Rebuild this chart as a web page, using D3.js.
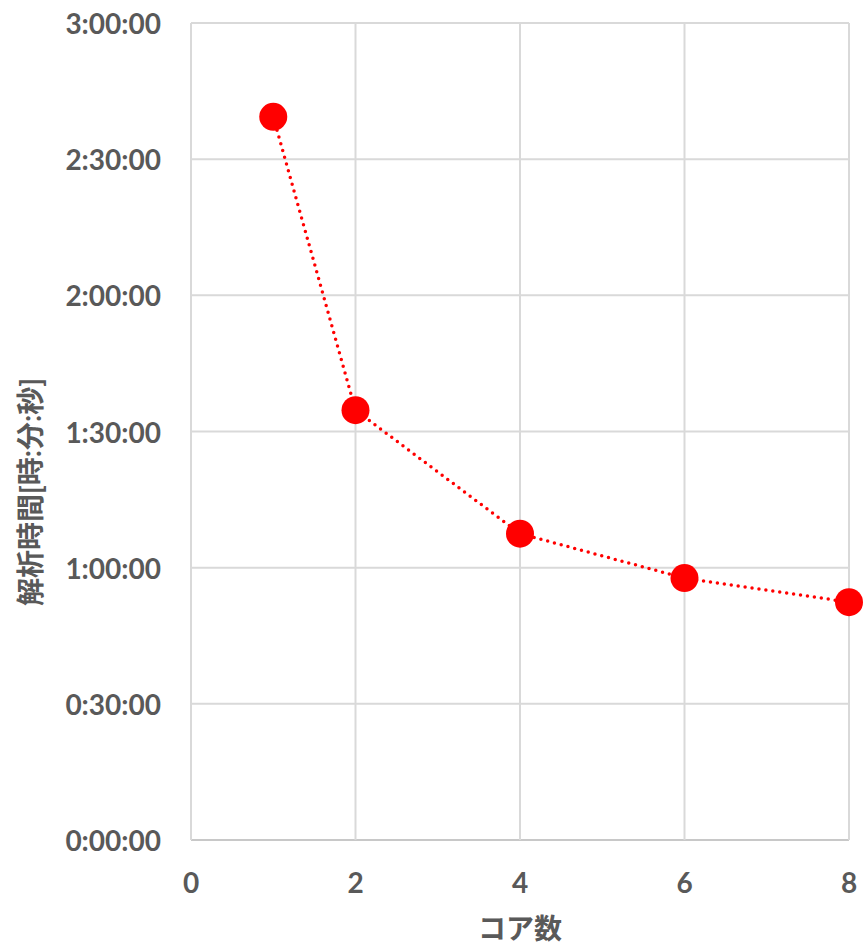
<!DOCTYPE html>
<html>
<head>
<meta charset="utf-8">
<script src="https://cdn.jsdelivr.net/npm/d3@7"></script>
<style>
  html, body { margin: 0; padding: 0; background: #fff; }
  svg text { font-family: Lato, "Noto Sans CJK JP", sans-serif; font-weight: bold; fill: #595959; }
</style>
</head>
<body>
<script>
// Analysis time versus number of cores
const cores = [1, 2, 4, 6, 8];
const times = ["2:39:20", "1:34:42", "1:07:30", "0:57:42", "0:52:24"];
const xTicks = [0, 2, 4, 6, 8];
const yTickLabels = ["0:00:00", "0:30:00", "1:00:00", "1:30:00", "2:00:00", "2:30:00", "3:00:00"];
const xTitle = "コア数";
const yTitle = "解析時間[時:分:秒]";

const toSec = s => s.split(":").reduce((a, v) => a * 60 + (+v), 0);

const W = 864, H = 945;
const m = { left: 191, right: 15, top: 23, bottom: 105 };

const svg = d3.select("body").append("svg").attr("width", W).attr("height", H);

const x = d3.scaleLinear().domain([0, 8]).range([m.left, W - m.right]);
const y = d3.scaleLinear().domain([0, toSec("3:00:00")]).range([H - m.bottom, m.top]);

const ySec = yTickLabels.map(toSec);

// Grid
const g = svg.append("g");
g.selectAll("line.h").data(ySec).join("line")
  .attr("x1", x(0)).attr("x2", x(8))
  .attr("y1", d => y(d)).attr("y2", d => y(d))
  .attr("stroke", d => d === 0 ? "#c8c8c8" : "#d9d9d9").attr("stroke-width", 2);
g.selectAll("line.v").data(xTicks).join("line")
  .attr("x1", d => x(d)).attr("x2", d => x(d))
  .attr("y1", y(ySec[ySec.length - 1])).attr("y2", y(0))
  .attr("stroke", "#d9d9d9").attr("stroke-width", 2);

// Y tick labels
svg.append("g").selectAll("text").data(yTickLabels).join("text")
  .attr("x", x(0) - 30).attr("y", d => y(toSec(d)))
  .attr("text-anchor", "end").attr("dominant-baseline", "central")
  .attr("font-size", 28).text(d => d);

// X tick labels
svg.append("g").selectAll("text").data(xTicks).join("text")
  .attr("x", d => x(d)).attr("y", y(0) + 42)
  .attr("text-anchor", "middle").attr("dominant-baseline", "central")
  .attr("font-size", 28).text(d => d);

// Axis titles
svg.append("text").attr("x", (x(0) + x(8)) / 2).attr("y", 939)
  .attr("text-anchor", "middle").attr("font-size", 28).text(xTitle);
svg.append("text")
  .attr("transform", "translate(30,492) rotate(-90)")
  .attr("text-anchor", "middle").attr("dominant-baseline", "central")
  .attr("font-size", 28).text(yTitle);

// Data
const pts = cores.map((c, i) => ({ c, s: toSec(times[i]) }));
svg.append("path").datum(pts)
  .attr("d", d3.line().x(d => x(d.c)).y(d => y(d.s)))
  .attr("fill", "none").attr("stroke", "#ff0000").attr("stroke-width", 3.5)
  .attr("stroke-linecap", "round").attr("stroke-dasharray", "0 7");
svg.append("g").selectAll("circle").data(pts).join("circle")
  .attr("cx", d => x(d.c)).attr("cy", d => y(d.s)).attr("r", 14)
  .attr("fill", "#ff0000");
</script>
</body>
</html>
